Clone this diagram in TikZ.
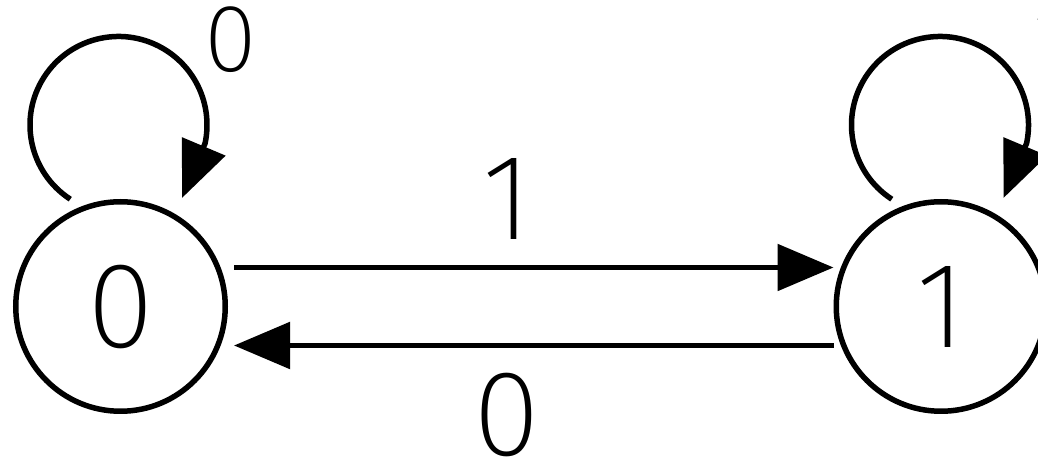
\documentclass[tikz,border=0pt]{standalone}
\usepackage{fontspec}
\usetikzlibrary{arrows.meta}
\IfFontExistsTF{Fira Sans ExtraLight}{\newfontfamily\dig{Fira Sans ExtraLight}}{%
 \IfFontExistsTF{FiraSans-ExtraLight}{\newfontfamily\dig{FiraSans-ExtraLight}}{%
  \IfFontExistsTF{Fira Sans Light}{\newfontfamily\dig{Fira Sans Light}}{%
   \IfFontExistsTF{Poppins ExtraLight}{\newfontfamily\dig{Poppins ExtraLight}}{%
    \IfFontExistsTF{Lato Light}{\newfontfamily\dig{Lato Light}}{%
     \IfFontExistsTF{DejaVu Sans ExtraLight}{\newfontfamily\dig{DejaVu Sans ExtraLight}}{%
      \newfontfamily\dig{Liberation Sans}}}}}}}
\begin{document}
\begin{tikzpicture}[x=1pt,y=1pt,
  state/.style={circle, draw, minimum size=209.5pt, inner sep=0pt, line width=5.5pt,
    font=\dig\fontsize{122}{122}\selectfont},
  lbl/.style={inner sep=0pt, font=\dig\fontsize{122}{122}\selectfont},
  sml/.style={inner sep=0pt, font=\dig\fontsize{96}{96}\selectfont},
  arr/.style={line width=5.5pt, -{Triangle[length=56pt,width=46pt]}}]
\useasboundingbox (0,0) rectangle (1038,460);
\node[state] (n0) at (120.5,153.5) {0};
\node[state] (n1) at (941,153.5) {1};
% transitions between states
\draw[arr] ([shift={(6pt,39pt)}]n0.east) -- ([shift={(0pt,39pt)}]n1.west);
\draw[arr] ([shift={(0pt,-39pt)}]n1.west) -- ([shift={(6pt,-39pt)}]n0.east);
\node[lbl] (l01) at (507,261) {1};
\node[lbl] (l10) at (507,45) {0};
% self loops
\coordinate (s0) at (70.3,260.8);
\coordinate (t0) at (182,262);
\draw[arr] (s0) arc[start angle=237, end angle=-12, radius=88.5] -- (t0);
\coordinate (s1) at (891.8,260.8);
\coordinate (t1) at (1003.5,262);
\draw[arr] (s1) arc[start angle=237, end angle=-12, radius=88.5] -- (t1);
\node[sml] (l00) at (231,420) {0};
\node[sml] (l11) at (1053,420) {1};
\end{tikzpicture}
\end{document}
